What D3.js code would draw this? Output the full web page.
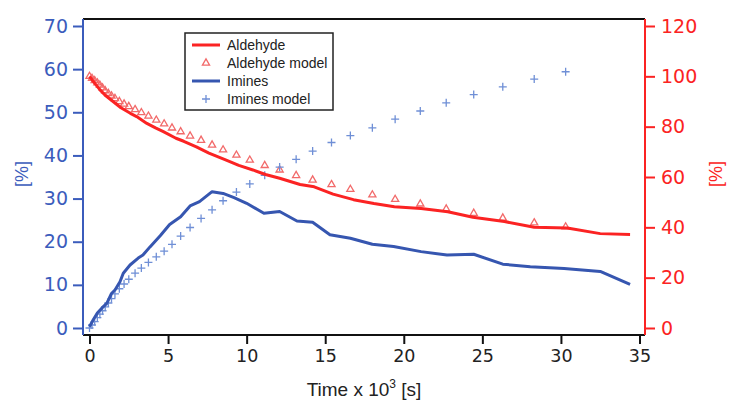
<!DOCTYPE html>
<html>
<head>
<meta charset="utf-8">
<script src="https://cdn.jsdelivr.net/npm/d3@7"></script>
<style>
  html, body { margin: 0; padding: 0; background: #fff; }
  svg { display: block; }
</style>
</head>
<body>
<svg id="chart" width="729" height="401"></svg>
<script>
// ---- data (time in 10^3 s) ----
const aldehydeTime = [0, 0.3, 0.67, 1.0, 1.5, 2.0, 2.6, 3.0, 3.65, 4.2, 4.7, 5.5, 6.0, 6.8, 7.6, 8.7, 9.5, 10.4, 11.2, 12.1, 13.4, 14.3, 15.5, 16.8, 18.1, 19.4, 21.1, 22.8, 24.4, 26.4, 28.3, 30.4, 32.5, 34.4];
const aldehydeValues = [100, 97.5, 94.6, 92.5, 90, 87.5, 85.3, 84, 81.3, 79.5, 78, 75.4, 74.2, 72, 69.5, 66.7, 64.6, 62.8, 61, 59.5, 57, 56.1, 53.2, 51, 49.5, 48.2, 47.5, 46.2, 44, 42.3, 40, 39.7, 37.5, 37.2];

const iminesTime = [0, 0.24, 0.5, 0.78, 1.1, 1.4, 1.62, 1.94, 2.15, 2.58, 3.1, 3.4, 3.85, 4.5, 5.1, 5.8, 6.4, 7.0, 7.8, 8.5, 9.2, 10.0, 11.1, 12.1, 13.2, 14.2, 15.3, 16.6, 18.0, 19.35, 21.1, 22.75, 24.45, 26.3, 28.05, 30.2, 32.5, 34.4];
const iminesValues = [0.3, 1.9, 3.5, 4.6, 5.7, 8.0, 8.8, 10.7, 12.7, 14.6, 16.2, 16.9, 18.8, 21.4, 24.0, 25.8, 28.3, 29.3, 31.6, 31.2, 30.2, 28.9, 26.6, 27.0, 24.8, 24.5, 21.6, 20.8, 19.4, 18.9, 17.7, 16.9, 17.1, 14.8, 14.2, 13.8, 13.1, 10.1];

const modelTime = [0, 0.16, 0.33, 0.5, 0.66, 0.83, 1.0, 1.2, 1.4, 1.62, 1.9, 2.2, 2.5, 2.9, 3.3, 3.75, 4.25, 4.75, 5.25, 5.8, 6.4, 7.1, 7.8, 8.5, 9.35, 10.2, 11.15, 12.1, 13.15, 14.2, 15.4, 16.6, 18.0, 19.45, 21.05, 22.7, 24.45, 26.3, 28.3, 30.3];
const aldehydeModel = [100, 99.2, 98.3, 97.4, 96.5, 95.4, 94.3, 93.2, 92.2, 91.2, 90.0, 89.0, 88.0, 86.8, 85.6, 84.2, 82.6, 81.1, 79.5, 78.0, 76.3, 74.6, 72.7, 70.8, 68.7, 66.7, 64.6, 62.8, 60.6, 58.8, 57.0, 55.1, 52.9, 51.1, 49.3, 47.3, 45.6, 43.7, 41.8, 40.2];
const iminesModel = [0, 0.7, 1.5, 2.4, 3.2, 4.0, 4.9, 5.8, 6.8, 7.9, 9.1, 10.2, 11.3, 12.7, 13.9, 15.2, 16.5, 17.8, 19.4, 21.3, 23.3, 25.4, 27.4, 29.5, 31.5, 33.4, 35.4, 37.3, 39.1, 41.0, 43.0, 44.6, 46.4, 48.4, 50.3, 52.2, 54.1, 55.9, 57.7, 59.4];

const xTicks = [0, 5, 10, 15, 20, 25, 30, 35];
const leftTicks = [0, 10, 20, 30, 40, 50, 60, 70];
const rightTicks = [0, 20, 40, 60, 80, 100, 120];
const legendLabels = ["Aldehyde", "Aldehyde model", "Imines", "Imines model"];

// ---- styling ----
const RED = "#fb2323";
const RED_LIGHT = "#f26a6a";
const BLUE = "#3656b0";
const BLUE_AX = "#3b5cbc";
const BLUE_LIGHT = "#6f8fd6";

const frame = { left: 83, right: 645, top: 19, bottom: 335 };

const svg = d3.select("#chart");

const x = d3.scaleLinear().domain([0, 35]).range([89.5, 639.5]);
const yL = d3.scaleLinear().domain([0, 70]).range([328, 26]);
const yR = d3.scaleLinear().domain([0, 120]).range([328, 26]);

const tickFont = "'DejaVu Sans', sans-serif";

// top frame
svg.append("line")
  .attr("x1", frame.left).attr("x2", frame.right)
  .attr("y1", frame.top).attr("y2", frame.top)
  .attr("stroke", "#111").attr("stroke-width", 2);

// bottom axis
const gx = svg.append("g").attr("transform", `translate(0,${frame.bottom})`)
  .call(d3.axisBottom(x).tickValues(xTicks).tickSize(9).tickPadding(6).tickFormat(d3.format("d")));
gx.select(".domain").remove();
gx.append("line").attr("x1", frame.left).attr("x2", frame.right).attr("y1", 0).attr("y2", 0)
  .attr("stroke", "#111").attr("stroke-width", 2);
gx.selectAll(".tick line").attr("stroke", "#111").attr("stroke-width", 2);
gx.selectAll(".tick text").attr("fill", "#222").style("font-family", tickFont).style("font-size", "17.5px");

// left axis
const gl = svg.append("g").attr("transform", `translate(${frame.left},0)`)
  .call(d3.axisLeft(yL).tickValues(leftTicks).tickSize(10).tickPadding(5).tickFormat(d3.format("d")));
gl.select(".domain").remove();
gl.append("line").attr("x1", 0).attr("x2", 0).attr("y1", frame.top).attr("y2", frame.bottom)
  .attr("stroke", BLUE_AX).attr("stroke-width", 2);
gl.selectAll(".tick line").attr("stroke", BLUE_AX).attr("stroke-width", 2);
gl.selectAll(".tick text").attr("fill", BLUE_AX).style("font-family", tickFont).style("font-size", "19px");

// right axis
const gr = svg.append("g").attr("transform", `translate(${frame.right},0)`)
  .call(d3.axisRight(yR).tickValues(rightTicks).tickSize(10).tickPadding(6).tickFormat(d3.format("d")));
gr.select(".domain").remove();
gr.append("line").attr("x1", 0).attr("x2", 0).attr("y1", frame.top).attr("y2", frame.bottom)
  .attr("stroke", RED).attr("stroke-width", 2);
gr.selectAll(".tick line").attr("stroke", RED).attr("stroke-width", 2);
gr.selectAll(".tick text").attr("fill", RED).style("font-family", tickFont).style("font-size", "19px");

// axis titles
svg.append("text")
  .attr("transform", "translate(28,174) rotate(-90)")
  .attr("text-anchor", "middle").attr("fill", BLUE_AX)
  .style("font-family", "'Liberation Sans', Arial, sans-serif").style("font-size", "18px")
  .text("[%]");
svg.append("text")
  .attr("transform", "translate(722,174) rotate(-90)")
  .attr("text-anchor", "middle").attr("fill", RED)
  .style("font-family", "'Liberation Sans', Arial, sans-serif").style("font-size", "18px")
  .text("[%]");

const xt = svg.append("text")
  .attr("x", 364).attr("y", 396).attr("text-anchor", "middle").attr("fill", "#222")
  .style("font-family", "'Liberation Sans', Arial, sans-serif").style("font-size", "19px");
xt.append("tspan").text("Time x 10");
xt.append("tspan").attr("dy", -8).style("font-size", "12px").text("3");
xt.append("tspan").attr("dy", 8).text(" [s]");

// ---- series ----
const plot = svg.append("g");

// aldehyde model triangles
const triPath = d3.symbol().type(d3.symbolTriangle).size(22);
plot.selectAll(".tri").data(modelTime.map((t, i) => [t, aldehydeModel[i]])).join("path")
  .attr("d", triPath)
  .attr("transform", d => `translate(${x(d[0])},${yR(d[1])})`)
  .attr("fill", "none").attr("stroke", RED_LIGHT).attr("stroke-width", 1.3);

// imines model crosses
const crossPath = "M-4,0H4M0,-4V4";
plot.selectAll(".cross").data(modelTime.map((t, i) => [t, iminesModel[i]])).join("path")
  .attr("d", crossPath)
  .attr("transform", d => `translate(${x(d[0])},${yL(d[1])})`)
  .attr("fill", "none").attr("stroke", BLUE_LIGHT).attr("stroke-width", 1.3);

// aldehyde line
plot.append("path")
  .datum(aldehydeTime.map((t, i) => [t, aldehydeValues[i]]))
  .attr("d", d3.line().x(d => x(d[0])).y(d => yR(d[1])))
  .attr("fill", "none").attr("stroke", RED).attr("stroke-width", 3).attr("stroke-linejoin", "round");

// imines line
plot.append("path")
  .datum(iminesTime.map((t, i) => [t, iminesValues[i]]))
  .attr("d", d3.line().x(d => x(d[0])).y(d => yL(d[1])))
  .attr("fill", "none").attr("stroke", BLUE).attr("stroke-width", 3).attr("stroke-linejoin", "round");

// ---- legend ----
const lg = svg.append("g");
lg.append("rect").attr("x", 185).attr("y", 33).attr("width", 148).attr("height", 77)
  .attr("fill", "#fff").attr("stroke", "#222").attr("stroke-width", 1.5);
const rows = [45, 63, 81, 99];
const kinds = ["line-red", "tri", "line-blue", "cross"];
legendLabels.forEach((lab, i) => {
  const yy = rows[i];
  if (kinds[i] === "line-red" || kinds[i] === "line-blue") {
    lg.append("line").attr("x1", 192).attr("x2", 220).attr("y1", yy).attr("y2", yy)
      .attr("stroke", kinds[i] === "line-red" ? RED : BLUE).attr("stroke-width", 3);
  } else if (kinds[i] === "tri") {
    lg.append("path").attr("d", triPath).attr("transform", `translate(206,${yy})`)
      .attr("fill", "none").attr("stroke", RED_LIGHT).attr("stroke-width", 1.3);
  } else {
    lg.append("path").attr("d", crossPath).attr("transform", `translate(206,${yy})`)
      .attr("fill", "none").attr("stroke", BLUE_LIGHT).attr("stroke-width", 1.3);
  }
  lg.append("text").attr("x", 227).attr("y", yy).attr("dy", "0.36em")
    .attr("fill", "#222")
    .style("font-family", "'Liberation Sans', Arial, sans-serif").style("font-size", "14px")
    .text(lab);
});
</script>
</body>
</html>
